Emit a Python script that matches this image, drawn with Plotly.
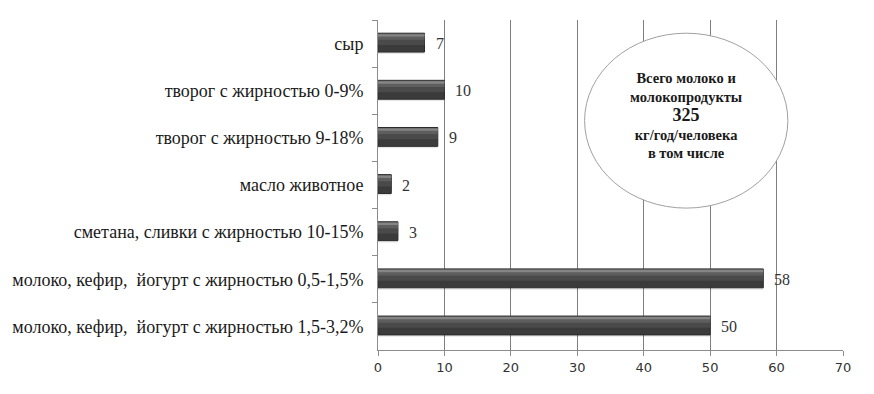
import plotly.graph_objects as go

categories = [
    "сыр",
    "творог с жирностью 0-9%",
    "творог с жирностью 9-18%",
    "масло животное",
    "сметана, сливки с жирностью 10-15%",
    "молоко, кефир,  йогурт с жирностью 0,5-1,5%",
    "молоко, кефир,  йогурт с жирностью 1,5-3,2%",
]
values = [7, 10, 9, 2, 3, 58, 50]
x_ticks = [0, 10, 20, 30, 40, 50, 60, 70]
circle_lines = ["Всего молоко и", "молокопродукты", "325", "кг/год/человека", "в том числе"]

SERIF = "Liberation Serif"
SANS = "DejaVu Sans"

fig = go.Figure()
# soft shadow
fig.add_trace(go.Bar(x=values, y=categories, orientation="h", width=0.40, offset=-0.18,
                     marker=dict(color="rgba(0,0,0,0.10)", line=dict(width=0)),
                     hoverinfo="skip", showlegend=False))
# base bar (dark)
fig.add_trace(go.Bar(x=values, y=categories, orientation="h", width=0.40, offset=-0.22,
                     marker=dict(color="#3b3b3b", line=dict(color="#2a2a2a", width=1)),
                     showlegend=False))
# gradient layers towards the top
fig.add_trace(go.Bar(x=values, y=categories, orientation="h", width=0.24, offset=-0.21,
                     marker=dict(color="#4a4a4a", line=dict(width=0)),
                     hoverinfo="skip", showlegend=False))
fig.add_trace(go.Bar(x=values, y=categories, orientation="h", width=0.13, offset=-0.21,
                     marker=dict(color="#5e5e5e", line=dict(width=0)),
                     hoverinfo="skip", showlegend=False))
fig.add_trace(go.Bar(x=values, y=categories, orientation="h", width=0.05, offset=-0.20,
                     marker=dict(color="#858585", line=dict(width=0)),
                     hoverinfo="skip", showlegend=False))

for c, v in zip(categories, values):
    fig.add_annotation(x=v, y=c, text=str(v), showarrow=False, xanchor="left",
                       xshift=9, font=dict(family=SERIF, size=16, color="#333333"))

fig.add_shape(type="circle", xref="x", yref="paper", x0=31.1, x1=61.7, y0=0.43, y1=0.96,
              line=dict(color="#a0a0a0", width=1), fillcolor="white", layer="above")

circle_text = ("<b>" + circle_lines[0] + "<br>" + circle_lines[1] + "<br>"
               + "<span style='font-size:18px'>" + circle_lines[2] + "</span><br>"
               + circle_lines[3] + "<br>" + circle_lines[4] + "</b>")
fig.add_annotation(x=46.4, y=0.712, xref="x", yref="paper", yanchor="middle", xanchor="center",
                   text=circle_text, showarrow=False,
                   font=dict(family=SERIF, size=14.5, color="#1a1a1a"), align="center")

fig.update_layout(
    width=866, height=386,
    margin=dict(l=370, r=31, t=12, b=44, autoexpand=False),
    paper_bgcolor="white", plot_bgcolor="white",
    barmode="overlay",
    xaxis=dict(range=[0, 70], tickvals=x_ticks, showgrid=True, gridcolor="#7f7f7f", gridwidth=1,
               zeroline=False, showline=True, linecolor="#8c8c8c", ticks="outside", ticklen=5,
               tickcolor="#8c8c8c", tickfont=dict(family=SANS, size=13, color="#333333"),
               fixedrange=True),
    yaxis=dict(autorange="reversed", showline=True, linecolor="#8c8c8c", ticks="outside",
               tickson="boundaries", ticklen=5, tickcolor="#8c8c8c", showgrid=False,
               tickfont=dict(family=SERIF, size=18, color="#1a1a1a"),
               ticklabelstandoff=10, fixedrange=True, automargin=False),
)
fig.write_html("out.html")
